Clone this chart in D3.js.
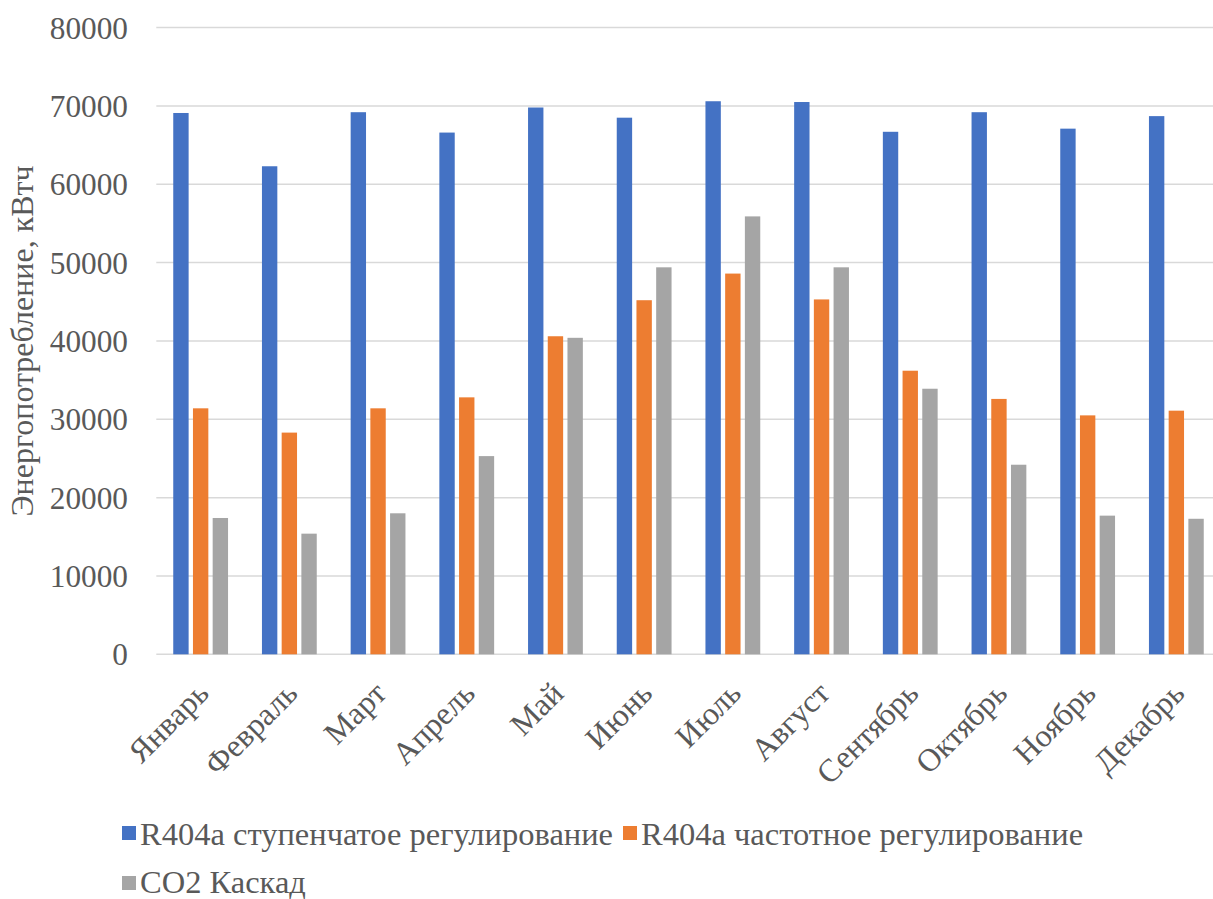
<!DOCTYPE html>
<html>
<head>
<meta charset="utf-8">
<script src="https://cdn.jsdelivr.net/npm/d3@7"></script>
<style>
  html, body { margin: 0; padding: 0; background: #ffffff; }
  svg { display: block; }
</style>
</head>
<body>
<div id="chart"></div>
<script>
// Monthly energy consumption, kWh
const months = ["Январь", "Февраль", "Март", "Апрель", "Май", "Июнь",
                "Июль", "Август", "Сентябрь", "Октябрь", "Ноябрь", "Декабрь"];
const seriesNames = ["R404a ступенчатое регулирование", "R404a частотное регулирование", "CO2 Каскад"];
const stepControl = [69100, 62300, 69200, 66600, 69800, 68500, 70600, 70500, 66700, 69200, 67100, 68700];
const freqControl = [31400, 28300, 31400, 32800, 40600, 45200, 48600, 45300, 36200, 32600, 30500, 31100];
const co2Cascade  = [17400, 15400, 18000, 25300, 40400, 49400, 55900, 49400, 33900, 24200, 17700, 17300];
const yTicks = [0, 10000, 20000, 30000, 40000, 50000, 60000, 70000, 80000];
const colors = ["#4472c4", "#ed7d31", "#a5a5a5"];
const yTitle = "Энергопотребление, кВтч";

const FONT = '"Liberation Serif"';
const TEXT = "#595959";

const W = 1213, H = 899;
const plot = { left: 156.3, right: 1220.7, top: 27.6, bottom: 654.3 };

const svg = d3.select("#chart").append("svg")
  .attr("width", W).attr("height", H);

const seriesValues = [stepControl, freqControl, co2Cascade];
const rows = months.map((m, i) => ({ month: m, values: seriesValues.map(s => s[i]) }));

const x0 = d3.scaleBand().domain(months)
  .range([plot.left, plot.right])
  .paddingInner(1 / 3).paddingOuter(1 / 6);
const x1 = d3.scaleBand().domain(d3.range(seriesNames.length))
  .range([0, x0.bandwidth()])
  .paddingInner(0.22).paddingOuter(0.11);
const y = d3.scaleLinear().domain([0, 80000]).range([plot.bottom, plot.top]);

// horizontal gridlines
svg.append("g").selectAll("line").data(yTicks).join("line")
  .attr("x1", plot.left).attr("x2", plot.right)
  .attr("y1", d => y(d)).attr("y2", d => y(d))
  .attr("stroke", "#d9d9d9").attr("stroke-width", 1.5);

// y axis labels
const yAxis = d3.axisLeft(y).tickValues(yTicks).tickSize(0).tickPadding(0)
  .tickFormat(d3.format("d"));
const gy = svg.append("g").attr("transform", `translate(128,0)`).call(yAxis)
  .attr("font-family", null);
gy.select(".domain").remove();
gy.selectAll("text")
  .attr("x", 0).attr("dy", "0.34em")
  .style("font-family", FONT).style("font-size", "31.3px")
  .style("fill", TEXT);

// bars
svg.append("g").selectAll("g").data(rows).join("g")
  .attr("transform", d => `translate(${x0(d.month)},0)`)
  .selectAll("rect").data(d => d.values.map((v, i) => ({ v, i }))).join("rect")
  .attr("x", d => x1(d.i))
  .attr("width", x1.bandwidth())
  .attr("y", d => y(d.v))
  .attr("height", d => y(0) - y(d.v))
  .attr("fill", d => colors[d.i]);

// x axis labels, rotated
const xAxis = d3.axisBottom(x0).tickSize(0).tickPadding(0);
const gx = svg.append("g").attr("transform", `translate(0,${plot.bottom})`).call(xAxis)
  .attr("font-family", null);
gx.select(".domain").remove();
gx.selectAll("text")
  .attr("y", 0).attr("dy", 0)
  .attr("text-anchor", "end")
  .attr("transform", "translate(10,41) rotate(-45)")
  .style("font-family", FONT).style("font-size", "32px")
  .style("fill", TEXT);

// y axis title
svg.append("text")
  .attr("transform", `translate(33,${(plot.top + plot.bottom) / 2}) rotate(-90)`)
  .attr("text-anchor", "middle")
  .style("font-family", FONT).style("font-size", "32px")
  .style("fill", TEXT)
  .text(yTitle);

// legend
const legendItems = [
  { name: seriesNames[0], color: colors[0], x: 122, y: 833, base: 845 },
  { name: seriesNames[1], color: colors[1], x: 623, y: 833, base: 845 },
  { name: seriesNames[2], color: colors[2], x: 122, y: 883, base: 893 }
];
const lg = svg.append("g").selectAll("g").data(legendItems).join("g");
lg.append("rect")
  .attr("x", d => d.x).attr("y", d => d.y - 7)
  .attr("width", 14).attr("height", 14)
  .attr("fill", d => d.color);
lg.append("text")
  .attr("x", d => d.x + 18).attr("y", d => d.base)
  .style("font-family", FONT).style("font-size", "32.5px")
  .style("fill", TEXT)
  .text(d => d.name);
</script>
</body>
</html>
